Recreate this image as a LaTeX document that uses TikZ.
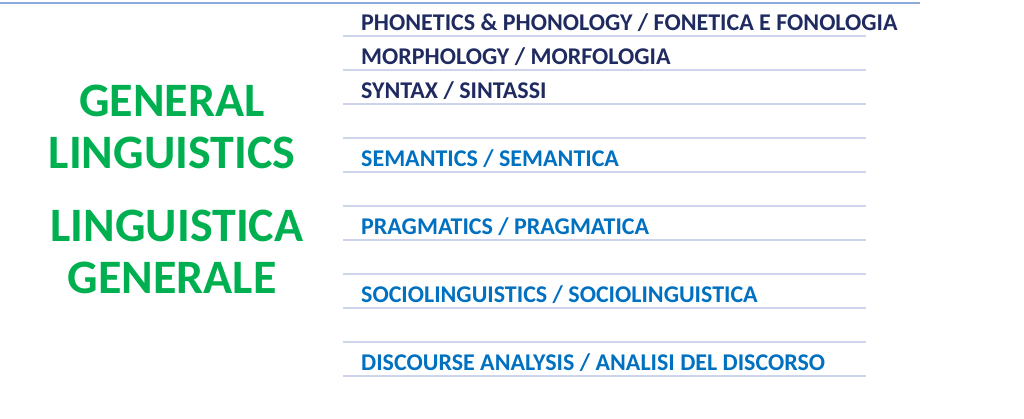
\documentclass[tikz,border=0pt]{standalone}
\usepackage{fontspec}
\setmainfont{Carlito}
\definecolor{titlegreen}{HTML}{00B050}
\definecolor{navy}{HTML}{1F2A60}
\definecolor{midblue}{HTML}{0070C0}
\definecolor{rulecol}{HTML}{CDD4EC}
\definecolor{topcol}{HTML}{8FAADC}
\tikzset{
	field/.style = {anchor=base west, inner sep=0pt, font=\bfseries\fontsize{24}{28}\selectfont},
	core/.style = {field, text=navy},
	outer/.style = {field, text=midblue},
	title/.style = {anchor=base, inner sep=0pt, text=titlegreen, font=\bfseries\fontsize{48}{56}\selectfont}
}
\begin{document}
\begin{tikzpicture}[x=1pt, y=-1pt]
		\useasboundingbox (0,0) rectangle (1024,418);
		\draw[color = topcol, line width = 1.5pt] (0,3) -- (920,3);
		\foreach \y in {36,70,...,376}
			\draw[color = rulecol, line width = 1.5pt] (343,\y) -- (866,\y);
		\node[title] (gen) at (172,116) {GENERAL};
		\node[title] (ling) at (172,168) {LINGUISTICS};
		\node[title] (lingit) at (177,241) {LINGUISTICA};
		\node[title] (genit) at (172,293) {GENERALE};
		\node[core] (phon) at (361,30) {PHONETICS \& PHONOLOGY / FONETICA E FONOLOGIA};
		\node[core] (morph) at (361,64) {MORPHOLOGY / MORFOLOGIA};
		\node[core] (syn) at (361,98) {SYNTAX / SINTASSI};
		\node[outer] (sem) at (361,166) {SEMANTICS / SEMANTICA};
		\node[outer] (prag) at (361,234) {PRAGMATICS / PRAGMATICA};
		\node[outer] (soc) at (361,302) {SOCIOLINGUISTICS / SOCIOLINGUISTICA};
		\node[outer] (disc) at (361,370) {DISCOURSE ANALYSIS / ANALISI DEL DISCORSO};
	\end{tikzpicture}
\end{document}
